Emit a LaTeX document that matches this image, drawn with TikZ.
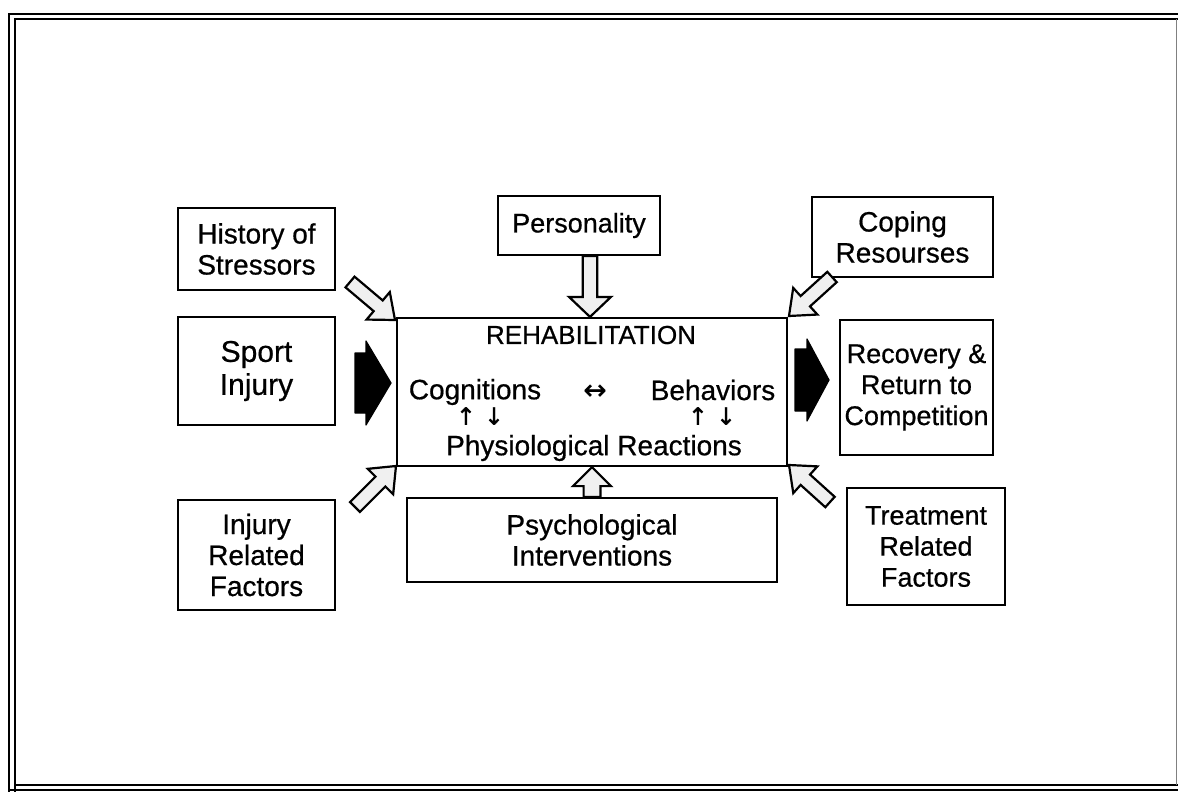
\documentclass[tikz,border=0pt]{standalone}
\usepackage{fontspec}
\setmainfont{Liberation Sans}[FakeBold=0.6]
\newfontfamily\arrfont{DejaVu Sans}[FakeBold=0.6]
\usetikzlibrary{calc}
\tikzset{
  box/.style={draw, line width=1.1pt, align=center, inner sep=0pt,
    font=\fontsize{14}{15.5}\selectfont},
  lbl/.style={inner sep=0pt, font=\fontsize{14}{15.5}\selectfont},
  sym/.style={inner sep=0pt, font=\arrfont\fontsize{12}{12}\selectfont},
  hollow/.style={draw, line width=1.1pt, fill=gray!12, line join=miter},
  solidarrow/.style={draw=black, fill=black, line width=0.6pt, line join=round},
  frameline/.style={line width=1.3pt},
}
% #1 style, #2 tail, #3 tip, #4 shaft half width, #5 head half width, #6 head length
\newcommand{\blockarrow}[6]{%
  \coordinate (hb) at ($(#3)!#6!(#2)$);
  \draw[#1] ($(#2)!#4!90:(#3)$) -- ($(hb)!#4!90:(#3)$) -- ($(hb)!#5!90:(#3)$)
    -- (#3) -- ($(hb)!#5!-90:(#3)$) -- ($(hb)!#4!-90:(#3)$)
    -- ($(#2)!#4!-90:(#3)$) -- cycle;
}
\begin{document}
\begin{tikzpicture}[x=0.5pt,y=-0.5pt]
\useasboundingbox (0,0) rectangle (1178,792);

% frame
\draw[frameline] (9,792) -- (9,14) -- (1178,14);
\draw[line width=1pt] (15,792) -- (15,19) -- (1178,19);
\draw[line width=1pt] (15,785) -- (1178,785);
\draw[frameline] (9,790) -- (1178,790);
\draw[line width=0.4pt, gray] (1176,19) -- (1176,785);

% boxes
\node[box, minimum width=78.5pt, minimum height=41pt] (hist) at (256.5,249) {History of\\Stressors};
\node[box, minimum width=81pt, minimum height=29.5pt, font=\fontsize{13.5}{15}\selectfont] (pers) at (579,225.5) {Personality};
\node[box, minimum width=90.5pt, minimum height=40pt] (coping) at (902.5,237) {Coping\\Resourses};
\node[box, minimum width=78.5pt, minimum height=54pt, font=\fontsize{15}{16.5}\selectfont] (sport) at (256.5,371) {Sport\\Injury};
\node[box, minimum width=195pt, minimum height=74pt] (rehab) at (592,392) {};
\node[box, minimum width=76.5pt, minimum height=67.5pt, font=\fontsize{13.5}{15.5}\selectfont] (recov) at (916.5,387.5) {Recovery \&\\Return to\\Competition};
\node[box, minimum width=78.5pt, minimum height=55pt] (injury) at (256.5,555) {Injury\\Related\\Factors};
\node[box, minimum width=185pt, minimum height=42pt] (psych) at (592,540) {Psychological\\Interventions};
\node[box, minimum width=79pt, minimum height=58.5pt, font=\fontsize{13.5}{15.5}\selectfont] (treat) at (926,546.5) {Treatment\\Related\\Factors};

% text inside rehabilitation box
\node[lbl, font=\fontsize{13}{15}\selectfont] (rtitle) at (591,335) {REHABILITATION};
\node[lbl] (cog) at (475,392) {Cognitions};
\node[sym, font=\arrfont\fontsize{14}{15}\selectfont] (lr) at (595,392) {↔};
\node[lbl] (beh) at (713,390) {Behaviors};
\node[sym] (ud1) at (480,416) {↑\,\,↓};
\node[sym] (ud2) at (712,416) {↑\,\,↓};
\node[lbl] (phys) at (594,448) {Physiological Reactions};

% connector coordinates
\coordinate (pd) at (590,256);
\coordinate (pdt) at (rehab.north -| pd);
\coordinate (pu) at (psych.north);
\coordinate (put) at (rehab.south -| pu);
\coordinate (tl) at (350,282);
\coordinate (tlt) at (395,320);
\coordinate (tr) at (832,277);
\coordinate (trt) at (789,316);
\coordinate (bl) at (355,507);
\coordinate (blt) at (396,466);
\coordinate (br) at (830,502);
\coordinate (brt) at (789,465);
\coordinate (sl) at (355,383);
\coordinate (slt) at (391,383);
\coordinate (sr) at (795,380);
\coordinate (srt) at (829,380);

% hollow arrows
\blockarrow{hollow}{pd}{pdt}{3.6pt}{10.5pt}{10pt}
\blockarrow{hollow}{pu}{put}{4.2pt}{9.5pt}{9.5pt}
\blockarrow{hollow}{tl}{tlt}{3.5pt}{9pt}{11pt}
\blockarrow{hollow}{tr}{trt}{3.5pt}{9pt}{11pt}
\blockarrow{hollow}{bl}{blt}{3.5pt}{9pt}{11pt}
\blockarrow{hollow}{br}{brt}{3.5pt}{9pt}{11pt}

% solid arrows
\blockarrow{solidarrow}{sl}{slt}{15pt}{21pt}{12.5pt}
\blockarrow{solidarrow}{sr}{srt}{15.5pt}{20.5pt}{11pt}
\end{tikzpicture}
\end{document}
